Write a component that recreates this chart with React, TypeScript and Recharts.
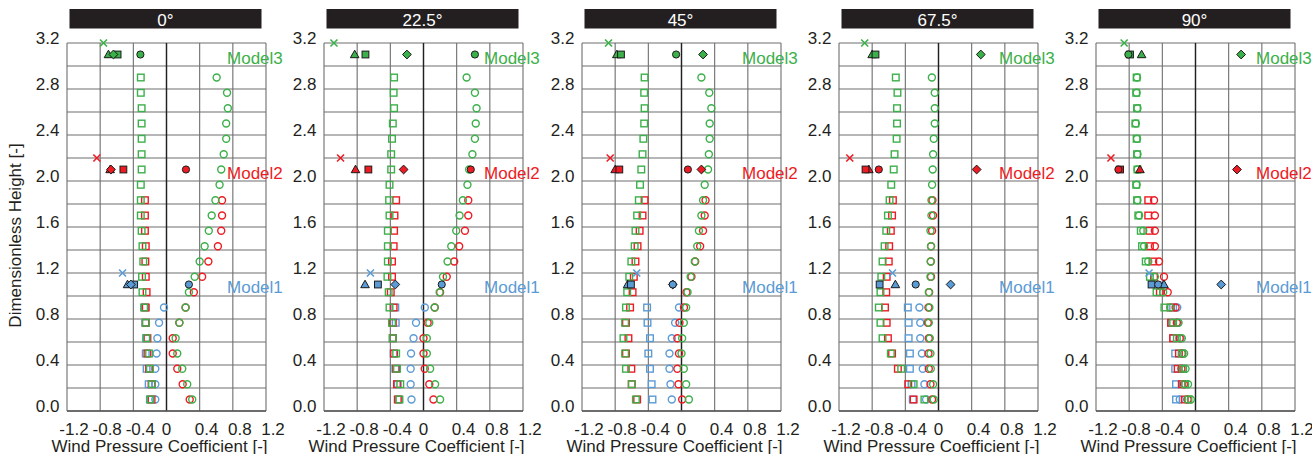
import { ScatterChart, Scatter, XAxis, YAxis, CartesianGrid, ReferenceLine, ReferenceDot } from 'recharts'

const GREEN = '#3cb04a'
const RED = '#ed1c24'
const BLUE = '#5b9bd5'
const INK = '#231f20'
const GRID = '#6e6e6e'
const FONT = '"Liberation Sans", Arial, sans-serif'
const FS = 17

// wind angle of each panel
const ANGLES = ['0°', '22.5°', '45°', '67.5°', '90°']

// measurement heights, top to bottom
const HEIGHTS = [2.9, 2.767, 2.633, 2.5, 2.367, 2.233, 2.1, 1.967, 1.833, 1.7, 1.567, 1.433, 1.3, 1.167, 1.033, 0.9, 0.767, 0.633, 0.5, 0.367, 0.233, 0.1]
const MODEL_HEIGHTS = [3.1, 2.1, 1.1]
const CROSS_HEIGHTS = [3.2, 2.2, 1.2]
const LABEL_HEIGHTS = [3.07, 2.07, 1.08]
const LABEL_X = 0.73
const MODEL_NAMES = ['Model3', 'Model2', 'Model1']
const MODEL_COLORS = [GREEN, RED, BLUE]
const MARK_KINDS = ['triangle', 'square', 'diamond', 'circle']

const X_TICKS = [-1.2, -0.8, -0.4, 0, 0.4, 0.8, 1.2]
const X_TICK_LABELS = ['-1.2', '-0.8', '-0.4', '0', '0.4', '0.8', '1.2']
const Y_TICKS = [0, 0.2, 0.4, 0.6, 0.8, 1.0, 1.2, 1.4, 1.6, 1.8, 2.0, 2.2, 2.4, 2.6, 2.8, 3.0, 3.2]
const Y_TICK_LABELS = ['0.0', '', '0.4', '', '0.8', '', '1.2', '', '1.6', '', '2.0', '', '2.4', '', '2.8', '', '3.2']

// ---- 0° ----
const G_SQ_0 = [-0.31, -0.31, -0.3, -0.3, -0.3, -0.3, -0.3, -0.31, -0.31, -0.31, -0.3, -0.29, -0.28, -0.295, -0.29, -0.27, -0.25, -0.24, -0.21, -0.2, -0.175, -0.195]
const G_CIR_0 = [0.605, 0.73, 0.74, 0.72, 0.72, 0.69, 0.66, 0.64, 0.59, 0.545, 0.51, 0.46, 0.4, 0.34, 0.27, 0.23, 0.155, 0.11, 0.13, 0.19, 0.25, 0.31]
const R_SQ_0 = [-0.26, -0.26, -0.26, -0.25, -0.255, -0.25, -0.24, -0.25, -0.25, -0.23, -0.23, -0.21, -0.18, -0.18]
const R_CIR_0 = [0.67, 0.67, 0.66, 0.62, 0.505, 0.43, 0.33, 0.23, 0.155, 0.075, 0.075, 0.13, 0.195, 0.28]
const B_SQ_0 = [-0.26, -0.255, -0.245, -0.25, -0.24, -0.215, -0.2]
const B_CIR_0 = [-0.03, -0.09, -0.11, -0.12, -0.135, -0.135, -0.135]
const M3_0 = [-0.7, -0.59, -0.64, -0.315]
const M2_0 = [-0.68, -0.52, -0.67, 0.235]
const M1_0 = [-0.47, -0.39, -0.43, 0.27]
const CROSS_0 = [-0.76, -0.84, -0.53]

// ---- 22.5° ----
const G_SQ_1 = [-0.355, -0.36, -0.355, -0.37, -0.38, -0.39, -0.39, -0.41, -0.415, -0.41, -0.43, -0.43, -0.43, -0.435, -0.42, -0.41, -0.38, -0.37, -0.33, -0.32, -0.28, -0.29]
const G_CIR_1 = [0.52, 0.62, 0.64, 0.63, 0.62, 0.59, 0.55, 0.53, 0.475, 0.435, 0.395, 0.335, 0.29, 0.235, 0.195, 0.135, 0.07, 0.04, 0.04, 0.08, 0.14, 0.2]
const R_SQ_1 = [-0.33, -0.35, -0.355, -0.36, -0.38, -0.38, -0.395, -0.36, -0.37, -0.37, -0.355, -0.33, -0.32, -0.31]
const R_CIR_1 = [0.54, 0.54, 0.5, 0.43, 0.37, 0.28, 0.2, 0.135, 0.05, 0.0, 0.0, 0.015, 0.07, 0.12]
const B_SQ_1 = [-0.34, -0.335, -0.37, -0.36, -0.34, -0.31, -0.3]
const B_CIR_1 = [0.016, -0.09, -0.12, -0.15, -0.155, -0.155, -0.145]
const M3_1 = [-0.83, -0.7, -0.2, 0.62]
const M2_1 = [-0.82, -0.665, -0.24, 0.57]
const M1_1 = [-0.705, -0.55, -0.34, 0.22]
const CROSS_1 = [-1.08, -1.0, -0.64]

// ---- 45° ----
const G_SQ_2 = [-0.445, -0.45, -0.445, -0.45, -0.46, -0.47, -0.485, -0.5, -0.515, -0.535, -0.555, -0.565, -0.605, -0.63, -0.655, -0.67, -0.68, -0.7, -0.68, -0.67, -0.6, -0.55]
const G_CIR_2 = [0.24, 0.335, 0.36, 0.34, 0.34, 0.33, 0.32, 0.28, 0.26, 0.24, 0.21, 0.19, 0.16, 0.11, 0.073, 0.056, 0.028, 0.008, 0.0, 0.028, 0.056, 0.089]
const R_SQ_2 = [-0.445, -0.47, -0.505, -0.53, -0.555, -0.575, -0.59, -0.62, -0.67, -0.64, -0.67, -0.605, -0.6, -0.535]
const R_CIR_2 = [0.29, 0.28, 0.26, 0.225, 0.165, 0.12, 0.06, 0.03, -0.024, -0.05, -0.03, -0.05, -0.036, 0.008]
const B_SQ_2 = [-0.415, -0.41, -0.38, -0.4, -0.38, -0.36, -0.35]
const B_CIR_2 = [-0.03, -0.077, -0.117, -0.145, -0.145, -0.133, -0.117]
const M3_2 = [-0.78, -0.73, 0.26, -0.065]
const M2_2 = [-0.8, -0.75, 0.24, 0.077]
const M1_2 = [-0.65, -0.61, -0.105, -0.105]
const CROSS_2 = [-0.88, -0.86, -0.54]

// ---- 67.5° ----
const G_SQ_3 = [-0.515, -0.495, -0.5, -0.5, -0.505, -0.53, -0.54, -0.57, -0.59, -0.61, -0.63, -0.65, -0.675, -0.69, -0.7, -0.72, -0.7, -0.675, -0.575, -0.45, -0.3, -0.17]
const G_CIR_3 = [-0.08, -0.045, -0.045, -0.045, -0.057, -0.065, -0.07, -0.077, -0.085, -0.085, -0.097, -0.09, -0.093, -0.097, -0.117, -0.11, -0.117, -0.105, -0.097, -0.093, -0.065, -0.057]
const R_SQ_3 = [-0.55, -0.56, -0.575, -0.595, -0.6, -0.625, -0.63, -0.645, -0.625, -0.61, -0.56, -0.49, -0.365, -0.3]
const R_CIR_3 = [-0.073, -0.065, -0.077, -0.09, -0.093, -0.09, -0.113, -0.121, -0.129, -0.117, -0.121, -0.117, -0.097, -0.077]
const B_SQ_3 = [-0.37, -0.36, -0.36, -0.345, -0.345, -0.325, -0.31]
const B_CIR_3 = [-0.23, -0.22, -0.22, -0.2, -0.19, -0.17, -0.15]
const M3_3 = [-0.8, -0.76, 0.51, null]
const M2_3 = [-0.84, -0.88, 0.46, -0.72]
const M1_3 = [-0.52, -0.71, 0.146, -0.275]
const CROSS_3 = [-0.89, -1.07, -0.555]

// ---- 90° ----
const G_SQ_4 = [-0.71, -0.715, -0.705, -0.725, -0.71, -0.705, -0.7, -0.715, -0.705, -0.69, -0.66, -0.645, -0.6, -0.55, -0.47, -0.375, -0.27, -0.225, -0.165, -0.15, -0.125, -0.085]
const G_CIR_4 = [-0.705, -0.71, -0.7, -0.72, -0.705, -0.7, -0.7, -0.71, -0.7, -0.68, -0.63, -0.62, -0.57, -0.49, -0.39, -0.305, -0.205, -0.165, -0.137, -0.12, -0.09, -0.056]
const R_SQ_4 = [-0.57, -0.57, -0.555, -0.55, -0.51, -0.5, -0.43, -0.3, -0.295, -0.27, -0.2, -0.215, -0.165, -0.13]
const R_CIR_4 = [-0.5, -0.49, -0.49, -0.49, -0.44, -0.38, -0.335, -0.24, -0.225, -0.19, -0.16, -0.17, -0.14, -0.095]
const B_SQ_4 = [-0.27, -0.29, -0.27, -0.245, -0.245, -0.235, -0.235]
const B_CIR_4 = [-0.22, -0.21, -0.18, -0.16, -0.15, -0.125, -0.19]
const M3_4 = [-0.65, -0.79, 0.55, -0.81]
const M2_4 = [-0.67, -0.91, 0.5, -0.93]
const M1_4 = [-0.38, -0.53, 0.31, -0.45]
const CROSS_4 = [-0.86, -1.02, -0.56]

const PANELS = [
  { title: ANGLES[0], gSq: G_SQ_0, gCir: G_CIR_0, rSq: R_SQ_0, rCir: R_CIR_0, bSq: B_SQ_0, bCir: B_CIR_0, models: [M3_0, M2_0, M1_0], cross: CROSS_0 },
  { title: ANGLES[1], gSq: G_SQ_1, gCir: G_CIR_1, rSq: R_SQ_1, rCir: R_CIR_1, bSq: B_SQ_1, bCir: B_CIR_1, models: [M3_1, M2_1, M1_1], cross: CROSS_1 },
  { title: ANGLES[2], gSq: G_SQ_2, gCir: G_CIR_2, rSq: R_SQ_2, rCir: R_CIR_2, bSq: B_SQ_2, bCir: B_CIR_2, models: [M3_2, M2_2, M1_2], cross: CROSS_2 },
  { title: ANGLES[3], gSq: G_SQ_3, gCir: G_CIR_3, rSq: R_SQ_3, rCir: R_CIR_3, bSq: B_SQ_3, bCir: B_CIR_3, models: [M3_3, M2_3, M1_3], cross: CROSS_3 },
  { title: ANGLES[4], gSq: G_SQ_4, gCir: G_CIR_4, rSq: R_SQ_4, rCir: R_CIR_4, bSq: B_SQ_4, bCir: B_CIR_4, models: [M3_4, M2_4, M1_4], cross: CROSS_4 },
]

// layout
const PANEL_X = [0, 257, 515, 772, 1029]
const CHART_W = 300
const CHART_H = 454
const AXIS_W = 67
const PLOT_W = 199

type Pt = { x: number; y: number }

// pairs values with the lowest heights (shorter series stop further down)
const toPoints = (xs: (number | null)[], hs: number[]): Pt[] => {
  const offset = hs.length - xs.length
  const out: Pt[] = []
  xs.forEach((x, i) => {
    if (x !== null) out.push({ x, y: hs[offset + i] })
  })
  return out
}

type ShapeProps = { cx?: number; cy?: number }

const openSquare = (color: string) => (p: ShapeProps) => (
  <rect x={(p.cx ?? 0) - 3.3} y={(p.cy ?? 0) - 3.3} width={6.6} height={6.6} fill="none" stroke={color} strokeWidth={1.4} />
)

const openCircle = (color: string) => (p: ShapeProps) => (
  <circle cx={p.cx} cy={p.cy} r={3.5} fill="none" stroke={color} strokeWidth={1.4} />
)

const crossMark = (color: string) => (p: ShapeProps) => {
  const cx = p.cx ?? 0
  const cy = p.cy ?? 0
  return (
    <g stroke={color} strokeWidth={1.6}>
      <line x1={cx - 3.5} y1={cy - 3.5} x2={cx + 3.5} y2={cy + 3.5} />
      <line x1={cx - 3.5} y1={cy + 3.5} x2={cx + 3.5} y2={cy - 3.5} />
    </g>
  )
}

const modelMark = (kind: string, color: string) => (p: ShapeProps) => {
  const cx = p.cx ?? 0
  const cy = p.cy ?? 0
  const common = { fill: color, stroke: '#1a1a1a', strokeWidth: 1 }
  if (kind === 'triangle') return <polygon points={`${cx},${cy - 4.3} ${cx + 4.3},${cy + 3.2} ${cx - 4.3},${cy + 3.2}`} {...common} />
  if (kind === 'square') return <rect x={cx - 3.4} y={cy - 3.4} width={6.8} height={6.8} {...common} />
  if (kind === 'diamond') return <polygon points={`${cx},${cy - 4.4} ${cx + 4.4},${cy} ${cx},${cy + 4.4} ${cx - 4.4},${cy}`} {...common} />
  return <circle cx={cx} cy={cy} r={3.6} {...common} />
}

const renderXTick = (props: any) => {
  const { x, y, payload } = props
  const i = X_TICKS.indexOf(payload.value)
  const dx = payload.value === 0 ? 0 : 7
  return (
    <text x={x + dx} y={y + 24} textAnchor="middle" fontSize={FS} fontFamily={FONT} fill={INK}>
      {X_TICK_LABELS[i]}
    </text>
  )
}

const renderYTick = (props: any) => {
  const { x, y, payload } = props
  const i = Y_TICKS.findIndex((t) => Math.abs(t - payload.value) < 1e-6)
  return (
    <text x={x - 7.5} y={y + 0.5} textAnchor="end" fontSize={FS} fontFamily={FONT} fill={INK}>
      {Y_TICK_LABELS[i] ?? ''}
    </text>
  )
}

function Panel({ panel }: { panel: (typeof PANELS)[number] }) {
  const series = [
    { pts: toPoints(panel.bSq, HEIGHTS), shape: openSquare(BLUE) },
    { pts: toPoints(panel.bCir, HEIGHTS), shape: openCircle(BLUE) },
    { pts: toPoints(panel.rSq, HEIGHTS), shape: openSquare(RED) },
    { pts: toPoints(panel.rCir, HEIGHTS), shape: openCircle(RED) },
    { pts: toPoints(panel.gSq, HEIGHTS), shape: openSquare(GREEN) },
    { pts: toPoints(panel.gCir, HEIGHTS), shape: openCircle(GREEN) },
  ]
  return (
    <ScatterChart width={CHART_W} height={CHART_H} margin={{ top: 43, right: CHART_W - AXIS_W - PLOT_W, bottom: 0, left: 0 }}>
      <CartesianGrid stroke={GRID} strokeWidth={1.1} />
      <XAxis
        type="number"
        dataKey="x"
        domain={[-1.2, 1.2]}
        ticks={X_TICKS}
        interval={0}
        height={43}
        tickSize={0}
        tickMargin={0}
        axisLine={{ stroke: '#555', strokeWidth: 1.6 }}
        tickLine={false}
        tick={renderXTick}
      />
      <YAxis
        type="number"
        dataKey="y"
        domain={[0, 3.2]}
        ticks={Y_TICKS}
        interval={0}
        width={AXIS_W}
        tickSize={0}
        tickMargin={0}
        axisLine={false}
        tickLine={false}
        tick={renderYTick}
      />
      <ReferenceLine x={0} stroke={INK} strokeWidth={1.4} />
      {series.map((s, i) => (
        <Scatter key={`s-${i}`} data={s.pts} shape={s.shape} isAnimationActive={false} />
      ))}
      {panel.models.map((vals, m) =>
        MARK_KINDS.map((kind, k) => (
          <Scatter
            key={`m-${m}-${k}`}
            data={toPoints([vals[k]], [MODEL_HEIGHTS[m]])}
            shape={modelMark(kind, MODEL_COLORS[m])}
            isAnimationActive={false}
          />
        )),
      )}
      {panel.cross.map((v, m) => (
        <Scatter
          key={`x-${m}`}
          data={toPoints([v], [CROSS_HEIGHTS[m]])}
          shape={crossMark(MODEL_COLORS[m])}
          isAnimationActive={false}
        />
      ))}
      {MODEL_NAMES.map((name, m) => (
        <ReferenceDot
          key={name}
          x={LABEL_X}
          y={LABEL_HEIGHTS[m]}
          r={0}
          fill="none"
          stroke="none"
          label={{ value: name, position: 'right', offset: 0, fill: MODEL_COLORS[m], fontSize: FS, fontFamily: FONT }}
        />
      ))}
    </ScatterChart>
  )
}

export default function App() {
  return (
    <div style={{ position: 'absolute', left: 0, top: 0, width: 1312, height: 454, overflow: 'hidden', background: '#fff', fontFamily: FONT }}>
      {PANELS.map((p, i) => (
        <div key={p.title} style={{ position: 'absolute', left: PANEL_X[i], top: 0 }}>
          <Panel panel={p} />
        </div>
      ))}
      <svg width={1312} height={454} style={{ position: 'absolute', left: 0, top: 0, pointerEvents: 'none' }}>
        {PANELS.map((p, i) => {
          const left = PANEL_X[i] + AXIS_W
          return (
            <g key={p.title}>
              <rect x={left + 2.5} y={9} width={192} height={19.5} fill={INK} />
              <text x={left + 98.5} y={26} textAnchor="middle" fontSize={FS} fontFamily={FONT} fill="#fff">
                {p.title}
              </text>
              <text x={left + PLOT_W / 2 - 7} y={451.5} textAnchor="middle" fontSize={FS} fontFamily={FONT} fill={INK}>
                Wind Pressure Coefficient [-]
              </text>
            </g>
          )
        })}
        <text transform="translate(21,235.5) rotate(-90)" textAnchor="middle" fontSize={FS} fontFamily={FONT} fill={INK}>
          Dimensionless Height [-]
        </text>
      </svg>
    </div>
  )
}
